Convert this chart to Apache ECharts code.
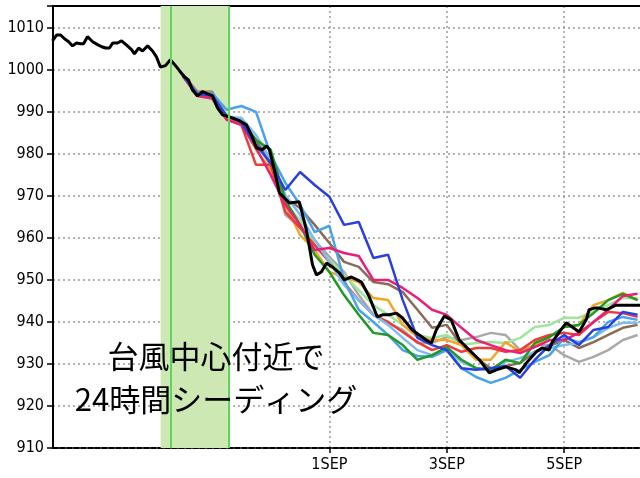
<!DOCTYPE html>
<html>
<head>
<meta charset="utf-8">
<script src="https://cdn.jsdelivr.net/npm/echarts@6/dist/echarts.min.js"></script>
<style>
  html, body { margin: 0; padding: 0; background: #fff; }
  #chart { width: 640px; height: 478px; }
</style>
</head>
<body>
<div id="chart"></div>
<script>
// 時刻は 9月1日 00時 からの経過時間 (h)
const tickHours = [0, 48, 96];
const tickNames = ['1SEP', '3SEP', '5SEP'];
const seedBand = [-69, -41.5];
const seedLines = [-65, -41];

// 黒線 (実況/コントロール)
const blackHours = [-113.2, -111.5, -109.9, -108.3, -106.6, -105.0, -103.4, -101.7, -100.5, -98.9,
  -96.8, -94.8, -93.1, -91.5, -89.9, -88.6, -86.6, -85.0, -82.9, -80.9,
  -79.7, -78.0, -76.4, -74.3, -72.3, -70.7, -69.1, -67.0, -65.0, -62.9,
  -61.3, -59.2, -57.6, -56.0, -53.9, -51.9, -49.8, -47.8, -45.8, -43.7,
  -40.8, -36.8, -33.9, -31.5, -29.8, -27.4, -25.7, -24.5, -22.5, -20.4,
  -16.3, -12.3, -9.4, -6.9, -5.3, -3.3, -1.2, 1.2, 4.1, 6.1,
  9.0, 11.4, 13.1, 16.3, 19.6, 21.7, 24.5, 27.4, 29.8, 33.9,
  39.6, 41.7, 43.7, 47.0, 49.8, 53.1, 57.2, 61.3, 65.4, 68.2,
  72.3, 76.4, 77.6, 80.5, 84.6, 87.0, 89.9, 91.1, 94.0, 96.8,
  99.3, 102.1, 105.0, 106.2, 108.3, 110.3, 113.2, 117.2, 121.3, 125.4, 127];
const blackPres = [1006.9, 1008.3, 1008.3, 1007.4, 1006.7, 1005.7, 1006.4, 1006.2, 1006.2, 1007.9,
  1006.7, 1006.0, 1005.5, 1005.2, 1005.2, 1006.4, 1006.4, 1006.9, 1005.9, 1004.8,
  1003.8, 1005.2, 1004.5, 1005.7, 1004.5, 1003.1, 1000.7, 1001.0, 1002.4, 1001.0,
  999.8, 998.3, 997.6, 995.2, 993.8, 994.8, 994.3, 993.8, 991.0, 989.3,
  988.8, 987.9, 986.9, 984.0, 981.4, 981.0, 981.9, 981.0, 976.2, 970.7,
  968.3, 968.6, 961.9, 953.6, 951.2, 951.9, 954.0, 953.1, 951.7, 950.0,
  950.7, 950.0, 949.5, 946.0, 941.2, 941.7, 941.7, 942.1, 941.0, 938.1,
  935.7, 935.0, 938.1, 941.4, 940.5, 935.7, 933.3, 931.0, 927.9, 928.6,
  929.3, 928.6, 927.9, 930.2, 932.9, 933.8, 933.3, 935.2, 937.6, 939.8,
  938.8, 937.6, 940.5, 942.9, 943.3, 943.3, 942.9, 944.0, 944.0, 944.0, 944.0];

// アンサンブルメンバー (6時間毎, -60h から 126h)
const memberHours = [];
for (let h = -60; h <= 126; h += 6) memberHours.push(h);

const bluePres = [998.8, 994.2, 994.0, 989.0, 987.6, 982.1, 977.9, 971.4, 975.7, 972.6, 969.8, 963.1, 963.8, 955.2, 956.0, 945.2, 936.2, 934.5, 933.3, 929.0, 928.6, 929.0, 929.5, 926.7, 931.0, 934.5, 936.9, 934.5, 938.1, 938.8, 942.4, 941.7];
const lightBluePres = [998.8, 994.5, 994.5, 990.5, 991.4, 990.0, 979.8, 973.1, 967.9, 961.4, 962.9, 950.0, 942.9, 940.0, 936.9, 933.3, 931.9, 931.7, 933.3, 929.0, 926.9, 925.5, 926.7, 928.6, 930.5, 932.1, 936.2, 935.2, 936.4, 940.0, 941.2, 940.5];
const skyBluePres = [998.6, 994.0, 993.8, 988.8, 988.6, 984.5, 978.6, 970.2, 965.5, 959.5, 954.3, 948.8, 945.2, 941.7, 939.3, 936.2, 933.3, 932.1, 933.3, 930.5, 929.0, 928.6, 930.5, 931.4, 932.9, 933.8, 934.5, 935.0, 936.4, 938.6, 939.8, 939.8];
const greenPres = [998.6, 993.9, 993.6, 989.0, 987.6, 983.3, 981.0, 969.0, 963.1, 956.0, 951.9, 946.4, 941.7, 937.4, 936.9, 934.5, 931.0, 932.1, 934.0, 931.0, 929.0, 928.6, 931.0, 930.2, 935.0, 936.4, 938.8, 939.3, 942.1, 945.2, 946.7, 945.2];
const magentaPres = [998.6, 993.8, 993.2, 988.1, 986.9, 981.4, 975.0, 967.9, 963.1, 957.1, 957.6, 956.4, 955.7, 950.0, 950.0, 948.1, 945.7, 942.9, 941.7, 938.6, 935.7, 934.5, 933.3, 932.6, 934.0, 935.7, 935.7, 937.4, 940.0, 942.9, 946.2, 946.7];
const orangePres = [998.9, 994.6, 994.6, 988.6, 987.6, 981.0, 976.2, 967.9, 960.7, 957.1, 951.9, 950.7, 949.5, 945.7, 945.2, 939.3, 936.4, 935.7, 935.7, 934.5, 931.0, 931.0, 935.2, 932.9, 934.5, 936.4, 938.8, 939.3, 944.0, 945.2, 946.9, 945.2];
const brownPres = [999.0, 994.8, 994.8, 988.8, 987.9, 983.3, 977.4, 969.5, 967.1, 963.1, 958.8, 954.3, 953.1, 949.5, 949.0, 947.1, 942.9, 938.6, 939.3, 934.5, 931.4, 929.0, 929.5, 930.2, 932.9, 934.3, 935.7, 933.8, 935.2, 936.9, 938.6, 939.3];
const grayPres = [998.8, 994.3, 994.0, 988.8, 988.1, 983.3, 979.0, 965.5, 962.6, 959.5, 955.5, 951.9, 946.4, 941.7, 939.8, 938.1, 935.0, 935.0, 936.4, 935.7, 936.4, 937.4, 936.9, 933.3, 934.5, 934.5, 932.1, 930.5, 931.7, 933.3, 935.7, 936.9];
const lightGreenPres = [998.7, 994.1, 994.0, 988.8, 987.9, 982.1, 977.4, 967.9, 964.3, 958.3, 954.8, 951.2, 947.6, 944.0, 941.7, 939.3, 936.9, 936.2, 936.9, 934.5, 935.0, 935.2, 935.0, 936.2, 938.8, 939.3, 941.0, 941.0, 942.4, 944.0, 945.7, 945.7];
const redPres = [998.9, 994.6, 994.5, 988.3, 986.9, 977.4, 977.4, 966.2, 962.4, 958.3, 954.3, 949.3, 945.2, 941.7, 940.0, 937.6, 935.2, 933.3, 934.5, 932.9, 933.8, 933.8, 932.9, 933.3, 935.7, 936.9, 937.4, 936.9, 940.0, 942.4, 942.1, 941.2];

const members = [
  { name: 'gray', color: '#a9a9a9', pres: grayPres },
  { name: 'lightgreen', color: '#9de69a', pres: lightGreenPres },
  { name: 'brown', color: '#8c6b55', pres: brownPres },
  { name: 'orange', color: '#f2a52a', pres: orangePres },
  { name: 'red', color: '#ee3b36', pres: redPres },
  { name: 'skyblue', color: '#7cbcf0', pres: skyBluePres },
  { name: 'lightblue', color: '#4aa2ea', pres: lightBluePres },
  { name: 'green', color: '#1f9a25', pres: greenPres },
  { name: 'magenta', color: '#e8207a', pres: magentaPres },
  { name: 'blue', color: '#2a3fe0', pres: bluePres }
];

const blackData = blackHours.map((h, i) => [h, blackPres[i]]);

const chart = echarts.init(document.getElementById('chart'));

const series = [];
// シーディング期間の帯
series.push({
  type: 'line',
  data: blackData,
  z: 1,
  clip: false,
  silent: true,
  showSymbol: false,
  lineStyle: { opacity: 0 },
  markArea: {
    silent: true,
    itemStyle: { color: '#cde8b3' },
    data: [[{ xAxis: seedBand[0], yAxis: 908.9 }, { xAxis: seedBand[1], yAxis: 1016.6 }]]
  },
  markLine: {
    silent: true,
    symbol: 'none',
    label: { show: false },
    lineStyle: { color: '#5cd65c', width: 2, type: 'solid' },
    data: seedLines.map(h => ({ xAxis: h }))
  }
});
members.forEach(m => {
  series.push({
    name: m.name,
    type: 'line',
    z: 3,
    showSymbol: false,
    silent: true,
    lineStyle: { color: m.color, width: 2.5 },
    itemStyle: { color: m.color },
    data: memberHours.map((h, i) => [h, m.pres[i]])
  });
});
series.push({
  name: 'black',
  type: 'line',
  z: 4,
  showSymbol: false,
  silent: true,
  lineStyle: { color: '#000', width: 3 },
  itemStyle: { color: '#000' },
  data: blackData
});

const labelFont = '"Liberation Sans Narrow", "DejaVu Sans Condensed", sans-serif';

chart.setOption({
  animation: false,
  backgroundColor: '#fff',
  grid: { left: 53, right: 0, top: 6, bottom: 30 },
  xAxis: [
    {
      type: 'value',
      min: -113,
      max: 127,
      axisLine: { show: true, lineStyle: { color: '#000', width: 2, type: [5, 2] } },
      axisTick: { show: true, customValues: tickHours, length: 5, lineStyle: { color: '#000', width: 1.5 } },
      axisLabel: {
        customValues: tickHours,
        formatter: v => tickNames[tickHours.indexOf(v)] || '',
        color: '#000', fontSize: 16, fontFamily: labelFont, margin: 9
      },
      splitLine: { show: true, lineStyle: { color: '#9a9a9a', width: 1.5, type: [2, 3] } }
    },
    {
      type: 'value',
      position: 'top',
      min: -113,
      max: 127,
      axisLine: { show: true, onZero: false, lineStyle: { color: '#000', width: 2 } },
      axisTick: { show: false },
      axisLabel: { show: false },
      splitLine: { show: false }
    }
  ],
  yAxis: {
    type: 'value',
    min: 910,
    max: 1015.2,
    interval: 10,
    axisLine: { show: true, onZero: false, lineStyle: { color: '#000', width: 2 } },
    axisTick: { show: true, length: 6, lineStyle: { color: '#000', width: 1.5 } },
    axisLabel: {
      formatter: v => (v % 10 === 0 ? String(v) : ''),
      color: '#000', fontSize: 16, fontFamily: labelFont, margin: 9
    },
    splitLine: { show: true, lineStyle: { color: '#9a9a9a', width: 1.5, type: [2, 3] } }
  },
  graphic: [{
    type: 'text',
    z: 100,
    x: 216,
    y: 335,
    style: {
      text: '台風中心付近で\n24時間シーディング',
      font: '31px "Noto Sans CJK JP"',
      fill: '#000',
      align: 'center',
      verticalAlign: 'top',
      lineHeight: 43
    }
  }],
  series: series
});
</script>
</body>
</html>
